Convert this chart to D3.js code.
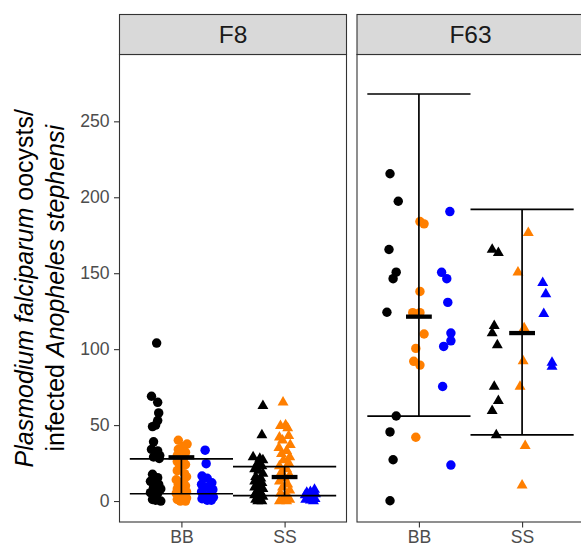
<!DOCTYPE html>
<html>
<head>
<meta charset="utf-8">
<script src="https://cdn.jsdelivr.net/npm/d3@7"></script>
<style>
  body { margin: 0; background: #ffffff; }
  text { font-family: "Liberation Sans", Arial, sans-serif; }
</style>
</head>
<body>
<script>
// facets, categories, ticks
var facets = ["F8", "F63"];
var categories = ["BB", "SS"];
var yTicks = [0, 50, 100, 150, 200, 250];

// points as [oocysts, jitter] , jitter in category units
var f8_BB_black = [[104, 0.01], [69, -0.04], [65, 0.02], [58, 0.03], [53, 0.02], [49, -0.03], [50, 0.0],
  [39, -0.02], [34, -0.04], [33, 0.02], [30, 0.04], [29, -0.02], [28, 0.035], [17.6, -0.03], [15.4, 0.02],
  [13, -0.05], [13.5, -0.01], [11, 0.03], [9, -0.02], [8, 0.05], [5.5, -0.05], [5, 0.02], [1, -0.03],
  [0, 0.05], [0.5, 0.0]];
var f8_BB_orange = [[40, -0.03], [37.5, 0.055], [36, 0.02], [34, -0.03], [32, 0.04], [30, -0.04], [28, 0.02],
  [26, -0.04], [24, 0.04], [22, -0.02], [20, -0.04], [18, 0.03], [16, 0.05], [14, -0.05], [13, 0.02],
  [11, -0.03], [10, 0.04], [8, -0.04], [7, 0.01], [6, 0.05], [5, -0.05], [4, 0.03], [3, -0.02], [2, 0.05],
  [1, -0.04], [1, 0.02], [0, -0.01], [0, 0.04]];
var f8_BB_blue = [[33.5, -0.02], [24.6, -0.01], [16.5, -0.05], [15, 0.0], [12, 0.045], [11, -0.055],
  [9, 0.0], [7.5, 0.055], [6, -0.055], [4, 0.02], [2.5, 0.06], [1.5, -0.05], [0.5, 0.0], [0.5, 0.04]];
var f8_SS_black = [[62.7, 0.04], [43.5, 0.03], [29, -0.055], [28, 0.01], [27, 0.04], [25, -0.01], [23, 0.03],
  [21, -0.04], [20, 0.0], [18, 0.04], [16, -0.03], [15, 0.02], [13, -0.04], [12, 0.03], [10, 0.0],
  [9, -0.04], [8, 0.04], [6, -0.02], [5, 0.02], [4, -0.04], [3, 0.04], [2, 0.0], [1, -0.03], [0, 0.03],
  [0, -0.01]];
var f8_SS_orange = [[65, -0.015], [50, 0.01], [49.5, -0.04], [48, 0.03], [43, 0.04], [42, -0.05], [40, -0.02],
  [37, 0.055], [35, -0.055], [33, 0.02], [31, -0.03], [29, 0.05], [27, -0.01], [25, 0.04], [23, -0.05],
  [21, 0.02], [19, -0.03], [17, 0.05], [15, 0.0], [13, -0.05], [11, 0.03], [9, -0.02], [7, 0.05],
  [5, -0.04], [4, 0.02], [2, -0.01], [1, 0.05], [0, -0.05], [0, 0.02]];
var f8_SS_blue = [[7.6, 0.04], [6, 0.0], [5.6, -0.035], [4.5, 0.05], [4, -0.05], [3, 0.02], [2.5, -0.02],
  [1.5, 0.045], [1, -0.045], [0.5, 0.0], [0, 0.03]];

var f63_BB_black = [[215.5, -0.03], [197.4, 0.05], [165.6, -0.04], [150.7, 0.03], [146.4, 0.0], [124.3, -0.06],
  [56, 0.03], [45.5, -0.03], [27.2, 0.0], [0.2, -0.03]];
var f63_BB_orange = [[184, 0.01], [182.5, 0.05], [138, 0.01], [124, -0.06], [124, 0.01], [110, 0.05],
  [100.5, -0.03], [92, -0.05], [89.5, 0.01], [42, -0.03]];
var f63_BB_blue = [[190.6, 0.05], [150.6, -0.03], [146.4, 0.02], [130.8, 0.03], [110.6, 0.06], [105.5, 0.06],
  [101.8, -0.01], [75.4, -0.02], [23.7, 0.06]];
var f63_SS_black = [[165.6, -0.04], [163.4, 0.02], [115.4, -0.02], [110.6, -0.04], [102.7, 0.01], [75.4, -0.02],
  [66, 0.02], [59.4, -0.04], [43.5, 0.0]];
var f63_SS_orange = [[176.6, 0.06], [150.6, -0.04], [113.9, 0.02], [92.1, 0.01], [75.4, -0.02], [36.3, 0.03],
  [10.3, 0.0]];
var f63_SS_blue = [[143.6, -0.05], [136.3, -0.02], [123.3, -0.04], [91.2, 0.04], [88.6, 0.04]];

// error bars: lower cap, upper cap, mean (BB, SS)
var f8_low = [4.8, 3.5];
var f8_high = [27.7, 22.6];
var f8_mean = [28.8, 15.8];
var f63_low = [55.9, 43.5];
var f63_high = [268, 192];
var f63_mean = [121.4, 110.6];

var pointData = {
  F8: [[f8_BB_black, f8_BB_orange, f8_BB_blue], [f8_SS_black, f8_SS_orange, f8_SS_blue]],
  F63: [[f63_BB_black, f63_BB_orange, f63_BB_blue], [f63_SS_black, f63_SS_orange, f63_SS_blue]]
};
var barData = {
  F8: [f8_low, f8_high, f8_mean],
  F63: [f63_low, f63_high, f63_mean]
};

// look
var colors = ["#000000", "#ff7f00", "#0000ff"];
var dodge = [-0.25, 0, 0.25];
var width = 581, height = 544;
var stripTop = 14.5, panelTop = 54.5, panelBottom = 522;
var panelX = [[119.5, 346.5], [357, 584]];

var svg = d3.select("body")
  .append("svg")
  .attr("width", width)
  .attr("height", height);

var yscale = d3.scaleLinear()
  .domain([-13.8, 294])
  .range([panelBottom, panelTop]);

var circle = d3.symbol().type(d3.symbolCircle).size(70);
var triangle = d3.symbol().type(d3.symbolTriangle).size(52);

facets.forEach(function(facet, f) {
  var xscale = d3.scaleLinear()
    .domain([0.4, 2.6])
    .range(panelX[f]);

  var panel = svg.append("g").attr("class", "panel");

  panel.append("rect")
    .attr("x", panelX[f][0])
    .attr("y", panelTop)
    .attr("width", panelX[f][1] - panelX[f][0])
    .attr("height", panelBottom - panelTop)
    .attr("fill", "#ffffff");

  // points
  categories.forEach(function(cat, c) {
    pointData[facet][c].forEach(function(group, g) {
      panel.append("g")
        .selectAll("path")
        .data(group)
        .enter()
        .append("path")
        .attr("d", c == 0 ? circle : triangle)
        .attr("transform", function(d) {
          return "translate(" + xscale(c + 1 + dodge[g] + d[1]) + "," + yscale(d[0]) + ")";
        })
        .attr("fill", colors[g]);
    });
  });

  // error bars
  var low = barData[facet][0], high = barData[facet][1], mean = barData[facet][2];
  categories.forEach(function(cat, c) {
    var x = c + 1;
    [low[c], high[c]].forEach(function(v) {
      panel.append("line")
        .attr("x1", xscale(x - 0.5)).attr("x2", xscale(x + 0.5))
        .attr("y1", yscale(v)).attr("y2", yscale(v))
        .attr("stroke", "#000").attr("stroke-width", 1.7);
    });
    panel.append("line")
      .attr("x1", xscale(x)).attr("x2", xscale(x))
      .attr("y1", yscale(low[c])).attr("y2", yscale(Math.max(high[c], mean[c])))
      .attr("stroke", "#000").attr("stroke-width", 1.7);
    panel.append("line")
      .attr("x1", xscale(x - 0.125)).attr("x2", xscale(x + 0.125))
      .attr("y1", yscale(mean[c])).attr("y2", yscale(mean[c]))
      .attr("stroke", "#000").attr("stroke-width", 4.3);
  });

  // border
  panel.append("rect")
    .attr("x", panelX[f][0])
    .attr("y", panelTop)
    .attr("width", panelX[f][1] - panelX[f][0])
    .attr("height", panelBottom - panelTop)
    .attr("fill", "none")
    .attr("stroke", "#333333")
    .attr("stroke-width", 1.1);

  // strip
  panel.append("rect")
    .attr("x", panelX[f][0])
    .attr("y", stripTop)
    .attr("width", panelX[f][1] - panelX[f][0])
    .attr("height", panelTop - stripTop)
    .attr("fill", "#d9d9d9")
    .attr("stroke", "#333333")
    .attr("stroke-width", 1.1);

  panel.append("text")
    .attr("x", (panelX[f][0] + panelX[f][1]) / 2)
    .attr("y", (stripTop + panelTop) / 2)
    .attr("dy", "0.36em")
    .attr("text-anchor", "middle")
    .style("font-size", "24.5px")
    .attr("fill", "#1a1a1a")
    .text(facet);

  // x axis
  var xAxis = d3.axisBottom(xscale)
    .tickValues([1, 2])
    .tickFormat(function(d) { return categories[d - 1]; })
    .tickSize(5.5)
    .tickPadding(3.5);

  var gx = svg.append("g")
    .attr("transform", "translate(0," + panelBottom + ")")
    .call(xAxis);
  styleAxis(gx);
});

// y axis
var yAxis = d3.axisLeft(yscale)
  .tickValues(yTicks)
  .tickSize(5.5)
  .tickPadding(4.5);

var gy = svg.append("g")
  .attr("transform", "translate(" + panelX[0][0] + ",0)")
  .call(yAxis);
styleAxis(gy);

function styleAxis(g) {
  g.select(".domain").remove();
  g.selectAll(".tick line").attr("stroke", "#333333").attr("stroke-width", 1.1);
  g.selectAll(".tick text")
    .attr("fill", "#4d4d4d")
    .style("font-size", "17.6px")
    .style("font-family", "'Liberation Sans', Arial, sans-serif");
}

// y-axis title, two lines
var midY = (panelTop + panelBottom) / 2;
var title1 = svg.append("text")
  .attr("transform", "translate(33," + midY + ") rotate(-90)")
  .attr("text-anchor", "middle")
  .style("font-size", "25px")
  .attr("fill", "#000");
title1.append("tspan").style("font-style", "italic").text("Plasmodium falciparum");
title1.append("tspan").text(" oocysts/");

var title2 = svg.append("text")
  .attr("transform", "translate(64," + midY + ") rotate(-90)")
  .attr("text-anchor", "middle")
  .style("font-size", "25px")
  .attr("fill", "#000");
title2.append("tspan").text("infected ");
title2.append("tspan").style("font-style", "italic").text("Anopheles stephensi");
</script>
</body>
</html>
